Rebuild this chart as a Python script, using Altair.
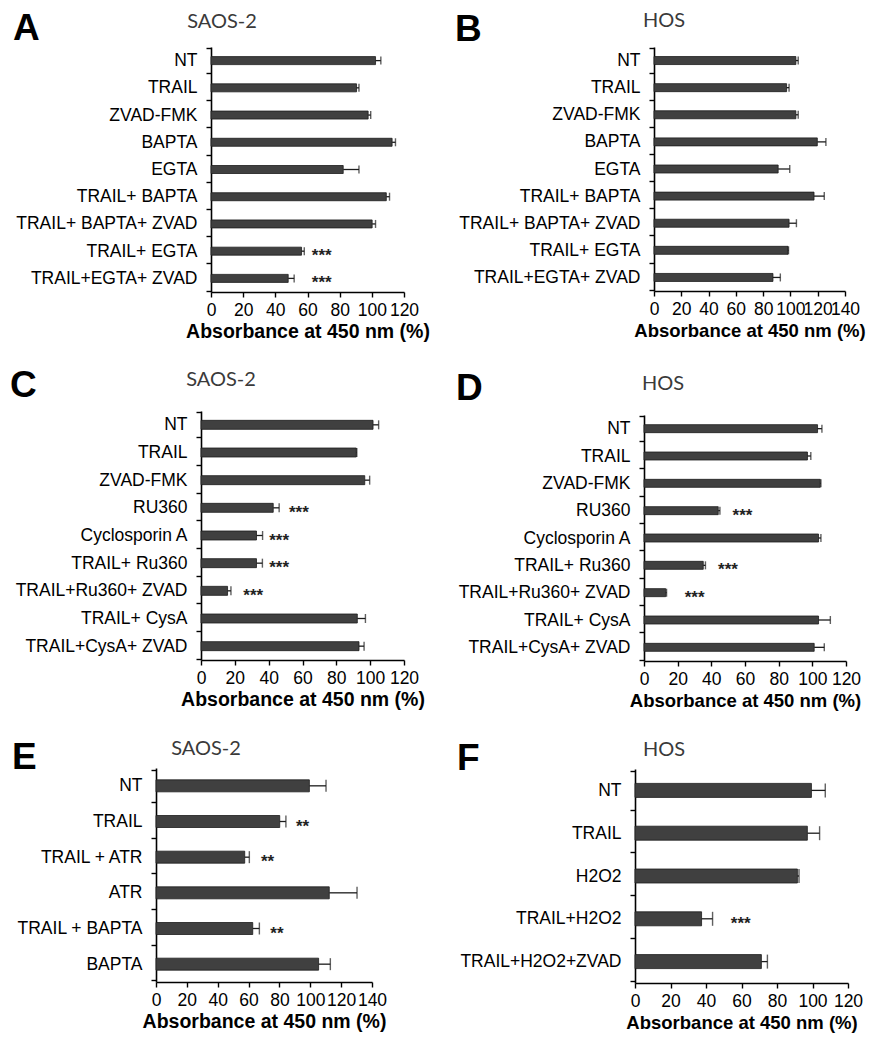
import altair as alt
import pandas as pd

FONT = "Liberation Sans"
TITLE_FONT = "Lato"
AXIS_TITLE = "Absorbance at 450 nm (%)"

# ---------------- data ----------------
ab_cats = ["NT", "TRAIL", "ZVAD-FMK", "BAPTA", "EGTA", "TRAIL+ BAPTA",
           "TRAIL+ BAPTA+ ZVAD", "TRAIL+ EGTA", "TRAIL+EGTA+ ZVAD"]
a_vals = [102.3, 90.5, 97.7, 112.6, 82.2, 109.0, 100.2, 56.3, 48.0]
a_errs = [3.3, 1.5, 1.6, 2.1, 9.8, 2.0, 2.1, 1.7, 3.7]
a_sig = ["", "", "", "", "", "", "", "***", "***"]
a_sig_at = [0, 0, 0, 0, 0, 0, 0, 62.7, 62.7]

b_vals = [104.0, 97.2, 104.0, 119.7, 91.0, 117.3, 99.0, 98.2, 87.2]
b_errs = [1.7, 1.8, 1.7, 6.3, 8.5, 7.5, 5.4, 0.4, 5.4]
b_sig = ["", "", "", "", "", "", "", "", ""]
b_sig_at = [0, 0, 0, 0, 0, 0, 0, 0, 0]

cd_cats = ["NT", "TRAIL", "ZVAD-FMK", "RU360", "Cyclosporin A", "TRAIL+ Ru360",
           "TRAIL+Ru360+ ZVAD", "TRAIL+ CysA", "TRAIL+CysA+ ZVAD"]
c_vals = [101.7, 91.8, 96.8, 42.7, 32.8, 32.8, 15.7, 92.4, 93.4]
c_errs = [3.3, 0.3, 2.9, 3.5, 3.6, 3.5, 2.0, 4.8, 3.0]
c_sig = ["", "", "", "***", "***", "***", "***", "", ""]
c_sig_at = [0, 0, 0, 52.0, 40.3, 40.3, 25.0, 0, 0]

d_vals = [103.1, 97.1, 104.7, 44.1, 103.7, 35.2, 12.9, 103.7, 101.1]
d_errs = [2.6, 2.0, 0.4, 1.0, 1.4, 1.3, 0.5, 7.0, 6.0]
d_sig = ["", "", "", "***", "", "***", "***", "", ""]
d_sig_at = [0, 0, 0, 52.6, 0, 44.0, 24.2, 0, 0]

e_cats = ["NT", "TRAIL", "TRAIL + ATR", "ATR", "TRAIL + BAPTA", "BAPTA"]
e_vals = [99.4, 80.2, 57.5, 112.3, 62.7, 105.4]
e_errs = [10.8, 4.0, 3.0, 18.0, 4.3, 7.6]
e_sig = ["", "**", "**", "", "**", ""]
e_sig_at = [0, 90.7, 68.0, 0, 74.1, 0]

f_cats = ["NT", "TRAIL", "H2O2", "TRAIL+H2O2", "TRAIL+H2O2+ZVAD"]
f_vals = [99.4, 97.1, 91.5, 37.5, 71.2]
f_errs = [7.8, 6.9, 0.9, 6.2, 3.4]
f_sig = ["", "", "", "***", ""]
f_sig_at = [0, 0, 0, 54.0, 0]


def panel(letter, cell, cats, vals, errs, sig, sig_at, xmax, w, h, bar,
          off, letter_xy, title_xy, title_size):
    """off = horizontal indent of the plot area inside its column."""
    df = pd.DataFrame({
        "cat": cats, "val": vals, "err": errs,
        "hi": [v + e for v, e in zip(vals, errs)],
        "sig": sig, "sig_at": sig_at,
    })
    xs = alt.Scale(domain=[0, xmax], range=[off, off + w], nice=False,
                   zero=True)
    yaxis = alt.Axis(tickBand="extent", tickSize=5, labelPadding=9,
                     labelFontSize=17.5, labelFont=FONT, offset=-off,
                     labelColor="black", domainColor="black",
                     tickColor="black", domainWidth=1.6,
                     tickWidth=1.4, labelLimit=300)
    xaxis = alt.Axis(values=list(range(0, xmax + 1, 20)),
                     grid=False, tickSize=5, labelPadding=4,
                     labelFontSize=17.5, labelFont=FONT,
                     labelColor="black", labelOverlap=False,
                     labelFlush=False, domainColor="black",
                     tickColor="black", domainWidth=1.6,
                     tickWidth=1.4, titleFont=FONT,
                     titleFontSize=title_size, titleFontWeight="bold",
                     titleColor="black", titlePadding=4)

    def X(field):
        return alt.X(field, type="quantitative", scale=xs, axis=xaxis,
                     title=AXIS_TITLE)

    def Y():
        return alt.Y("cat:N", sort=cats, title=None, axis=yaxis)

    base = alt.Chart(df)
    bars = base.mark_bar(size=bar, color="#404040", stroke="#1c1c1c",
                         strokeWidth=0.8).encode(x=X("val"), y=Y())
    rule = base.mark_rule(color="#1c1c1c", strokeWidth=1.3).encode(
        x=X("val"), x2="hi:Q", y=Y())
    cap = base.mark_tick(size=bar, thickness=1.4, color="#1c1c1c").encode(
        x=X("hi"), y=Y())
    stars = base.transform_filter("datum.sig != ''").mark_text(
        align="left", baseline="middle", dy=5, fontSize=17, fontWeight="bold",
        font=FONT, color="#222").encode(
        x=X("sig_at"), y=Y(), text="sig:N")
    lab = alt.Chart(pd.DataFrame({"t": [letter]})).mark_text(
        align="left", baseline="alphabetic", fontSize=37, fontWeight="bold",
        font=FONT, color="black").encode(
        text="t:N", x=alt.value(off + letter_xy[0]), y=alt.value(letter_xy[1]))
    ttl = alt.Chart(pd.DataFrame({"t": [cell]})).mark_text(
        align="center", baseline="alphabetic", fontSize=20, font=TITLE_FONT,
        color="#3a3a3a").encode(
        text="t:N", x=alt.value(off + title_xy[0]), y=alt.value(title_xy[1]))
    return alt.layer(bars, rule, cap, stars, lab, ttl).properties(
        width=off + w, height=h)


pA = panel("A", "SAOS-2", ab_cats, a_vals, a_errs, a_sig, a_sig_at, 120,
           193, 245, 8, 55, (-198, -7), (11, -19), 19.5)
pC = panel("C", "SAOS-2", cd_cats, c_vals, c_errs, c_sig, c_sig_at, 120,
           203, 249, 9, 45, (-191, -14), (20, -25), 19.5)
pE = panel("E", "SAOS-2", e_cats, e_vals, e_errs, e_sig, e_sig_at, 140,
           216, 214, 12, 0, (-144, 1), (50, -13), 19.5)

pB = panel("B", "HOS", ab_cats, b_vals, b_errs, b_sig, b_sig_at, 140,
           191, 244, 8, 19, (-199, -6), (10, -20), 18.5)
pD = panel("D", "HOS", cd_cats, d_vals, d_errs, d_sig, d_sig_at, 120,
           202, 246, 8, 9, (-188, -15), (19, -25), 18.5)
pF = panel("F", "HOS", f_cats, f_vals, f_errs, f_sig, f_sig_at, 120,
           213, 214, 14, 0, (-178, 1), (29, -13), 18.5)

left = alt.vconcat(alt.vconcat(pA, pC, spacing=26), pE, spacing=30)
right = alt.vconcat(alt.vconcat(pB, pD, spacing=30), pF, spacing=30)

chart = alt.hconcat(left, right, spacing=25).properties(
    padding={"left": 2, "top": 2, "right": 0, "bottom": 2}
).configure(background="white").configure_view(stroke=None)

chart.save("out.html", embed_options={"renderer": "svg", "actions": False})
